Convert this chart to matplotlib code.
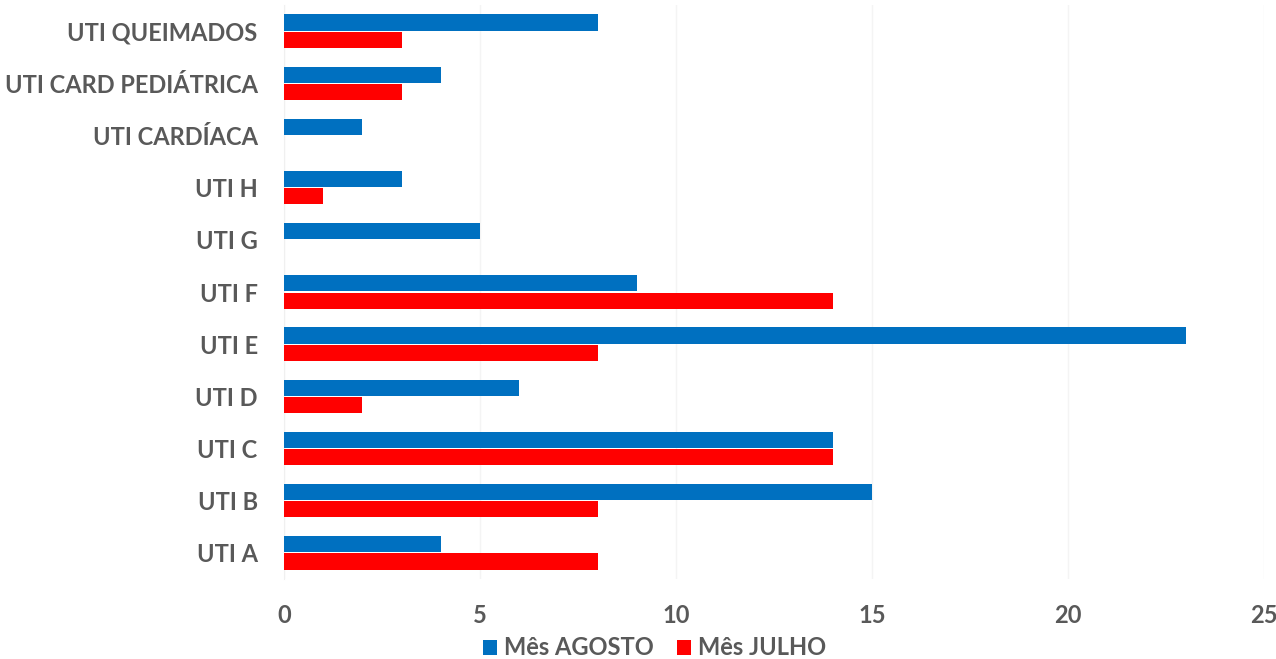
import matplotlib
matplotlib.use("Agg")
import matplotlib.pyplot as plt
import numpy as np

categories = ["UTI A", "UTI B", "UTI C", "UTI D", "UTI E", "UTI F", "UTI G",
              "UTI H", "UTI CARDÍACA", "UTI CARD PEDIÁTRICA", "UTI QUEIMADOS"]
agosto = [4, 15, 14, 6, 23, 9, 5, 3, 2, 4, 8]
julho = [8, 8, 14, 2, 8, 14, 0, 1, 0, 3, 3]
series_names = ["Mês AGOSTO", "Mês JULHO"]
xticks = [0, 5, 10, 15, 20, 25]

BLUE = "#0070C0"
RED = "#FF0000"
TEXT = "#595959"

plt.rcParams["font.family"] = ["Lato", "DejaVu Sans"]
plt.rcParams["font.weight"] = "bold"

fig = plt.figure(figsize=(12.76, 6.59), dpi=100)
ax = fig.add_axes([0.2226, 0.1214, 0.768, 0.871])

y = np.arange(len(categories))
h = 0.31
ax.barh(y + 0.165, agosto, height=h, color=BLUE, label=series_names[0], zorder=3)
ax.barh(y - 0.165, julho, height=h, color=RED, label=series_names[1], zorder=3)

ax.set_ylim(-0.5, len(categories) - 0.5)
ax.set_xlim(0, 25)
ax.set_xticks(xticks)
ax.set_yticks(y)
ax.set_yticklabels(categories)

ax.grid(axis="x", color="#f4f4f4", linewidth=1, zorder=0)
for s in ["top", "right", "bottom"]:
    ax.spines[s].set_visible(False)
ax.spines["left"].set_color("#f0f0f0")
ax.tick_params(axis="both", length=0, labelsize=17, labelcolor=TEXT)
ax.tick_params(axis="y", pad=19)
ax.tick_params(axis="x", pad=18)
for lab in ax.get_xticklabels() + ax.get_yticklabels():
    lab.set_fontweight("bold")

fig.legend(loc="center", bbox_to_anchor=(0.513, 0.0167), ncol=2, frameon=False,
           labelcolor=TEXT, handlelength=0.6, handleheight=0.6,
           handletextpad=0.3, columnspacing=1.0, prop={"weight": "bold", "size": 17})

fig.savefig("out.png", dpi=100, facecolor="white")
